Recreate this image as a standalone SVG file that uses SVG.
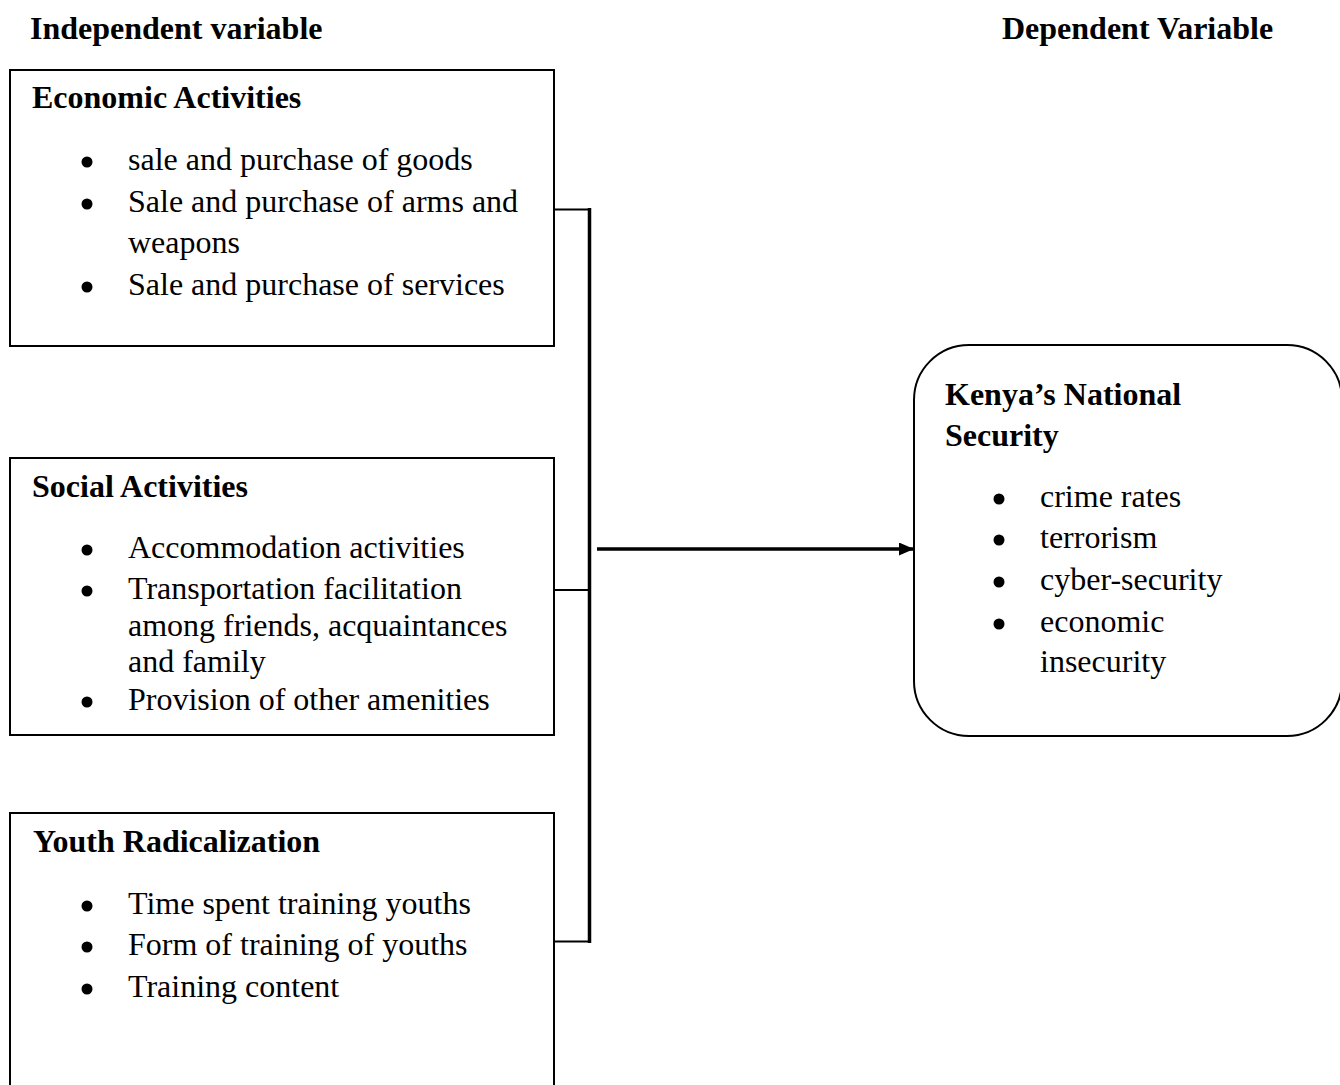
<svg xmlns="http://www.w3.org/2000/svg" width="1340" height="1085" viewBox="0 0 1340 1085">
<style>
text{font-family:"Liberation Serif","Times New Roman",serif;font-size:32px;fill:#000}
.b{font-weight:bold}
.box{fill:#fff;stroke:#000;stroke-width:2}
.thin{stroke:#000;stroke-width:2;fill:none}
.thick{stroke:#000;stroke-width:3.5;fill:none}
.dot{fill:#000}
</style>
<defs>
<marker id="ah" viewBox="0 0 15 13" refX="15" refY="6.5" markerWidth="15" markerHeight="13" markerUnits="userSpaceOnUse" orient="auto">
<path d="M0,0 L15,6.5 L0,13 z" fill="#000"/>
</marker>
</defs>
<rect width="1340" height="1085" fill="#fff"/>
<g id="headers">
<text class="b" x="30" y="39">Independent variable</text>
<text class="b" x="1002" y="39">Dependent Variable</text>
</g>
<g id="economic">
<rect class="box" x="10" y="70" width="544" height="276"/>
<text class="b" x="32" y="108">Economic Activities</text>
<circle class="dot" cx="87" cy="162" r="5.5"/><text x="128" y="170">sale and purchase of goods</text>
<circle class="dot" cx="87" cy="204" r="5.5"/><text x="128" y="212">Sale and purchase of arms and</text>
<text x="128" y="253">weapons</text>
<circle class="dot" cx="87" cy="287" r="5.5"/><text x="128" y="295">Sale and purchase of services</text>
</g>
<g id="social">
<rect class="box" x="10" y="458" width="544" height="277"/>
<text class="b" x="32" y="497">Social Activities</text>
<circle class="dot" cx="87" cy="550" r="5.5"/><text x="128" y="558">Accommodation activities</text>
<circle class="dot" cx="87" cy="591" r="5.5"/><text x="128" y="599">Transportation facilitation</text>
<text x="128" y="636">among friends, acquaintances</text>
<text x="128" y="672">and family</text>
<circle class="dot" cx="87" cy="702" r="5.5"/><text x="128" y="710">Provision of other amenities</text>
</g>
<g id="youth">
<rect class="box" x="10" y="813" width="544" height="290"/>
<text class="b" x="33" y="852">Youth Radicalization</text>
<circle class="dot" cx="87" cy="906" r="5.5"/><text x="128" y="914">Time spent training youths</text>
<circle class="dot" cx="87" cy="947" r="5.5"/><text x="128" y="955">Form of training of youths</text>
<circle class="dot" cx="87" cy="989" r="5.5"/><text x="128" y="997">Training content</text>
</g>
<g id="security">
<rect class="box" x="914" y="345" width="428" height="391" rx="55" ry="55"/>
<text class="b" x="945" y="405">Kenya’s National</text>
<text class="b" x="945" y="446">Security</text>
<circle class="dot" cx="999" cy="499" r="5.5"/><text x="1040" y="507">crime rates</text>
<circle class="dot" cx="999" cy="540" r="5.5"/><text x="1040" y="548">terrorism</text>
<circle class="dot" cx="999" cy="582" r="5.5"/><text x="1040" y="590">cyber-security</text>
<circle class="dot" cx="999" cy="624" r="5.5"/><text x="1040" y="632">economic</text>
<text x="1040" y="672">insecurity</text>
</g>
<g id="connectors">
<path class="thin" d="M554,209.5 H590 M554,590 H590 M554,941.5 H590"/>
<path class="thick" d="M589.5,208 V943"/>
<path class="thick" d="M597,549 H914" marker-end="url(#ah)"/>
</g>
</svg>
